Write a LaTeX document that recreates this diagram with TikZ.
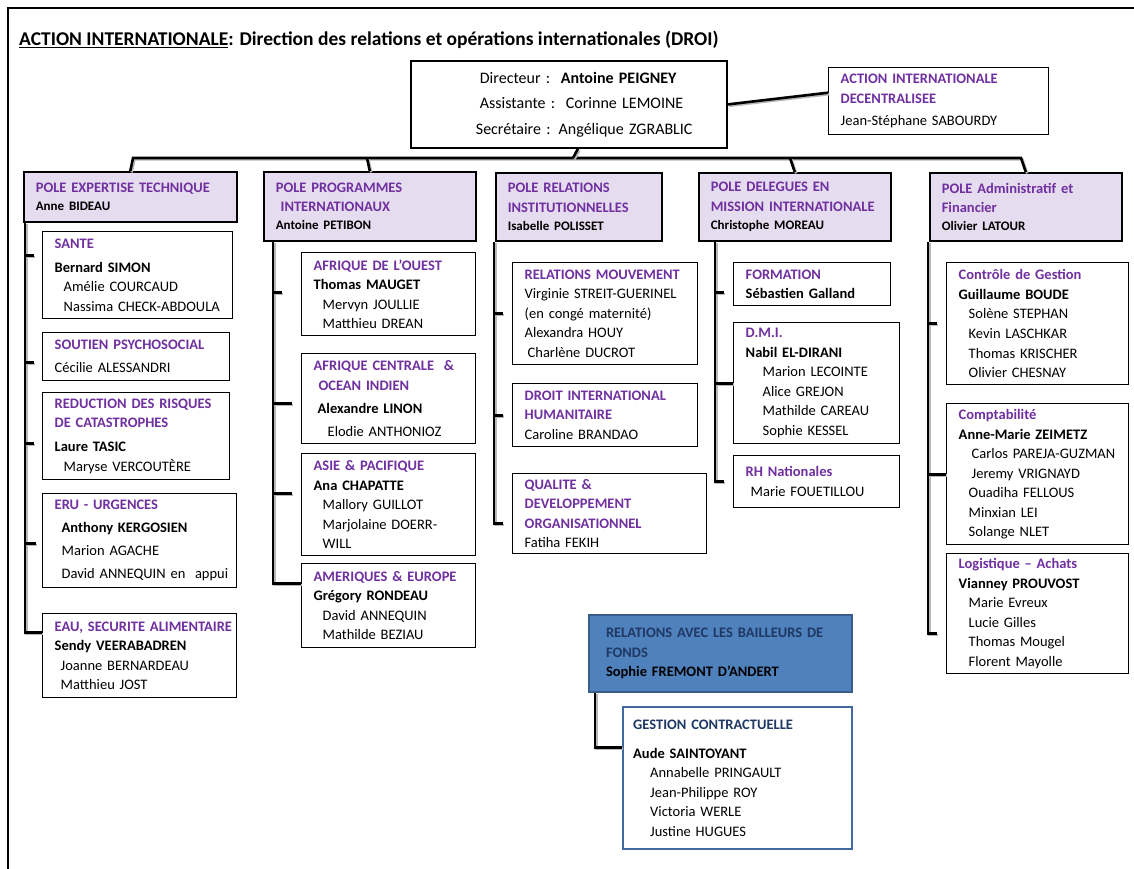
\documentclass[tikz,border=0pt]{standalone}
\usepackage{fontspec}
\setmainfont{Carlito}
\usetikzlibrary{positioning}

\definecolor{droipurple}{HTML}{7030A0}
\definecolor{polefill}{HTML}{E5DCEF}
\definecolor{fundfill}{HTML}{4F81BD}
\definecolor{fundline}{HTML}{385D8A}
\definecolor{fundtext}{HTML}{1F3864}
\definecolor{gestline}{HTML}{41699E}

\newcommand\bodyfont{\fontsize{14.5}{19.5}\selectfont}
\newcommand\chieffont{\fontsize{16}{19.5}\selectfont}
\newcommand\unithead[1]{{\bfseries\color{droipurple}#1}}
\newcommand\fundhead[1]{{\bfseries\color{fundtext}#1}}
\newcommand\polename[1]{{\fontsize{13}{18}\selectfont\bfseries #1}}
\def\ind{\hspace*{9pt}}

\tikzset{
    unit/.style 2 args={draw,line width=1.4pt,fill=white,anchor=north west,align=left,
        inner xsep=12pt,inner ysep=0pt,text width=#1,minimum height=#2,font=\bodyfont,
        execute at begin node={\hyphenpenalty=10000\relax\exhyphenpenalty=10000\relax}},
    pole/.style 2 args={unit={#1}{#2},fill=polefill,line width=1.6pt},
    link/.style={line width=2.6pt,preaction={draw=black!28,line width=2.6pt,
        transform canvas={shift={(1.4pt,-1.4pt)}}}}
}

\begin{document}
\begin{tikzpicture}[x=1pt,y=-1pt]
  \useasboundingbox (0,0) rectangle (1134,869);
  \draw[line width=1.2pt] (8,869) -- (8,8) -- (1134,8);

  % Title
  \node[anchor=west,inner sep=0pt,font=\fontsize{19.5}{23}\selectfont\bfseries] (title) at (19,40)
    {\underline{ACTION INTERNATIONALE}: Direction des relations et opérations internationales (DROI)};

  % Direction
  \node[unit={292pt}{87pt},line width=1.8pt,font=\chieffont] (dir) at (410,60)
    {\hspace*{57pt}Directeur :\ \ \textbf{Antoine~PEIGNEY}\\[6pt]
     \hspace*{57pt}Assistante :\ \ Corinne~LEMOINE\\[6pt]
     \hspace*{53pt}Secrétaire : Angélique~ZGRABLIC};
  \node[unit={196pt}{67pt}] (aid) at (828,67)
    {\unithead{ACTION INTERNATIONALE}\\ \unithead{DECENTRALISEE}\\[3pt] Jean-Stéphane SABOURDY};

  % Poles
  \node[pole={189pt}{50pt}] (pet) at (23,171)
    {\unithead{POLE EXPERTISE TECHNIQUE}\\[-1.5pt] \polename{Anne BIDEAU}};
  \node[pole={188pt}{69pt}] (ppi) at (263,171)
    {\unithead{POLE PROGRAMMES}\\ \unithead{\ INTERNATIONAUX}\\[-1.5pt] \polename{Antoine PETIBON}};
  \node[pole={142pt}{68pt}] (pri) at (495,172)
    {\unithead{POLE RELATIONS}\\ \unithead{INSTITUTIONNELLES}\\[-1.5pt] \polename{Isabelle POLISSET}};
  \node[pole={168pt}{68pt}] (pdm) at (698,172)
    {\unithead{POLE DELEGUES EN}\\ \unithead{MISSION~INTERNATIONALE}\\[-1.5pt] \polename{Christophe MOREAU}};
  \node[pole={168pt}{68pt}] (paf) at (929,172)
    {\unithead{POLE Administratif et}\\ \unithead{Financier}\\[-1.5pt] \polename{Olivier LATOUR}};

  % Pole expertise technique
  \node[unit={166pt}{87pt}] (sante) at (42,231)
    {\unithead{SANTE}\\[4.5pt] \textbf{Bernard SIMON}\\ \ind Amélie COURCAUD\\ \ind Nassima~CHECK-ABDOULA};
  \node[unit={163pt}{48pt}] (soutien) at (42,332)
    {\unithead{SOUTIEN PSYCHOSOCIAL}\\[3.5pt] Cécilie ALESSANDRI};
  \node[unit={163pt}{87pt}] (rrc) at (42,392)
    {\unithead{REDUCTION DES RISQUES}\\ \unithead{DE CATASTROPHES}\\[4.5pt] \textbf{Laure TASIC}\\ \ind Maryse VERCOUTÈRE};
  \node[unit={170pt}{94pt}] (eru) at (42,493)
    {\unithead{ERU - URGENCES}\\[3.5pt] \hspace*{7pt}\textbf{Anthony KERGOSIEN}\\[3.5pt]
     \hspace*{7pt}Marion AGACHE\\[3.5pt] \hspace*{7pt}David~ANNEQUIN~en~\ appui};
  \node[unit={170pt}{84pt}] (eau) at (42,613)
    {\unithead{EAU,~SECURITE~ALIMENTAIRE}\\ \textbf{Sendy VEERABADREN}\\ \hspace*{6pt}Joanne BERNARDEAU\\ \hspace*{6pt}Matthieu JOST};

  % Pole programmes internationaux
  \node[unit={150pt}{83pt}] (aouest) at (301,252)
    {\unithead{AFRIQUE DE L’OUEST}\\ \textbf{Thomas MAUGET}\\ \ind Mervyn JOULLIE\\ \ind Matthieu DREAN};
  \node[unit={150pt}{90pt}] (acentre) at (301,353)
    {\unithead{AFRIQUE CENTRALE\ \ \&}\\ \unithead{\ OCEAN INDIEN}\\[3.5pt] \hspace*{4pt}\textbf{Alexandre LINON}\\[3.5pt] \hspace*{14pt}Elodie ANTHONIOZ};
  \node[unit={150pt}{102pt}] (asie) at (301,453)
    {\unithead{ASIE \& PACIFIQUE}\\ \textbf{Ana CHAPATTE}\\ \ind Mallory GUILLOT\\ \ind Marjolaine DOERR-\\ \ind WILL};
  \node[unit={150pt}{84pt}] (amerique) at (301,563)
    {\unithead{AMERIQUES \& EUROPE}\\ \textbf{Grégory RONDEAU}\\ \ind David ANNEQUIN\\ \ind Mathilde BEZIAU};

  % Pole relations institutionnelles
  \node[unit={161pt}{102pt}] (relmvt) at (512,262)
    {\unithead{RELATIONS MOUVEMENT}\\ Virginie~STREIT-GUERINEL\\ (en congé maternité)\\ Alexandra HOUY\\ \hspace*{3pt}Charlène DUCROT};
  \node[unit={161pt}{63pt}] (dih) at (512,383)
    {\unithead{DROIT INTERNATIONAL}\\ \unithead{HUMANITAIRE}\\ Caroline BRANDAO};
  \node[unit={170pt}{80pt}] (qualite) at (512,473)
    {\unithead{QUALITE \&}\\ \unithead{DEVELOPPEMENT}\\ \unithead{ORGANISATIONNEL}\\ Fatiha FEKIH};

  % Pole delegues en mission internationale
  \node[unit={133pt}{43pt}] (formation) at (733,262)
    {\unithead{FORMATION}\\ \textbf{Sébastien Galland}};
  \node[unit={142pt}{121pt}] (dmi) at (733,322)
    {\unithead{D.M.I.}\\ \textbf{Nabil EL-DIRANI}\\ \hspace*{17pt}Marion LECOINTE\\ \hspace*{17pt}Alice GREJON\\
     \hspace*{17pt}Mathilde CAREAU\\ \hspace*{17pt}Sophie KESSEL};
  \node[unit={142pt}{52pt}] (rhn) at (733,455)
    {\unithead{RH Nationales}\\ \hspace*{5pt}Marie FOUETILLOU};

  % Pole administratif et financier
  \node[unit={158pt}{122pt}] (cdg) at (946,262)
    {\unithead{Contrôle de Gestion}\\ \textbf{Guillaume BOUDE}\\ \hspace*{10pt}Solène STEPHAN\\ \hspace*{10pt}Kevin LASCHKAR\\
     \hspace*{10pt}Thomas KRISCHER\\ \hspace*{10pt}Olivier CHESNAY};
  \node[unit={158pt}{141pt}] (compta) at (946,403)
    {\unithead{Comptabilité}\\ \textbf{Anne-Marie ZEIMETZ}\\ \hspace*{13pt}Carlos~PAREJA-GUZMAN\\ \hspace*{13pt}Jeremy VRIGNAYD\\
     \hspace*{10pt}Ouadiha FELLOUS\\ \hspace*{10pt}Minxian LEI\\ \hspace*{10pt}Solange NLET};
  \node[unit={158pt}{120pt}] (logist) at (946,553)
    {\unithead{Logistique – Achats}\\ \textbf{Vianney PROUVOST}\\ \hspace*{10pt}Marie Evreux\\ \hspace*{10pt}Lucie Gilles\\
     \hspace*{10pt}Thomas Mougel\\ \hspace*{10pt}Florent Mayolle};

  % Bailleurs de fonds
  \node[unit={229pt}{77pt},inner xsep=17pt,fill=fundfill,draw=fundline,line width=2pt] (bailleurs) at (588,614)
    {\fundhead{RELATIONS AVEC LES BAILLEURS DE}\\ \fundhead{FONDS}\\ \textbf{Sophie FREMONT D’ANDERT}};
  \node[unit={209pt}{142pt},inner xsep=10pt,draw=gestline,line width=2.4pt] (gestion) at (622,706)
    {\fundhead{GESTION CONTRACTUELLE}\\[9.5pt] \textbf{Aude SAINTOYANT}\\ \hspace*{17pt}Annabelle PRINGAULT\\
     \hspace*{17pt}Jean-Philippe ROY\\ \hspace*{17pt}Victoria WERLE\\ \hspace*{17pt}Justine HUGUES};

  % Bus between direction and poles
  \coordinate (bl) at (133,158);
  \coordinate (br) at (1021,158);
  \coordinate (bd) at (573,158);
  \coordinate (b2) at (367,158);
  \coordinate (b4) at (790,158);
  \draw[link] (pet.north) -- (bl) -- (br) -- (paf.north);
  \draw[link] ([xshift=9pt]dir.south) -- (bd);
  \draw[link] (b2) -- (ppi.north);
  \draw[link] (b4) -- (pdm.north);
  \draw[link] (dir.east) -- ([yshift=8.5pt]aid.west);

  % Column spines
  \coordinate (s1) at ([xshift=2pt]pet.south west);
  \coordinate (s2) at ([xshift=10pt]ppi.south west);
  \coordinate (s3) at ([xshift=-1pt]pri.south west);
  \coordinate (s4) at ([xshift=17pt]pdm.south west);
  \coordinate (s5) at ([xshift=-1pt]paf.south west);

  \draw[link] (s1) |- ([yshift=23pt]eau.west);
  \draw[link] (s1 |- sante.west) ++(0,-19.5) -- ++(9,0);
  \draw[link] (s1 |- soutien.west) ++(0,6) -- ++(9,0);
  \draw[link] (s1 |- rrc.west) ++(0,7.5) -- ++(9,0);
  \draw[link] (s1 |- eru.west) ++(0,3) -- ++(11,0);

  \draw[link] (s2) |- ([yshift=22pt]amerique.west);
  \draw[link] (s2 |- aouest.west) ++(0,-1.5) -- ++(9,0);
  \draw[link] (s2 |- acentre.west) ++(0,5) -- ++(19,0);
  \draw[link] (s2 |- asie.west) ++(0,-11) -- ++(19,0);

  \draw[link] (s3) |- ([yshift=-10pt,xshift=-9pt]qualite.west);
  \draw[link] (s3 |- relmvt.west) -- ++(9,0);
  \draw[link] (s3 |- dih.west) -- ++(9,0);

  \draw[link] (s4) |- ([xshift=-9pt]rhn.west);
  \draw[link] (s4 |- formation.west) ++(0,8.5) -- ++(9,0);
  \draw[link] (s4 |- dmi.west) -- (dmi.west);

  \draw[link] (s5) |- ([yshift=-20pt,xshift=-9pt]logist.west);
  \draw[link] (s5 |- cdg.west) -- ++(9,0);
  \draw[link] (s5 |- compta.west) -- (compta.west);

  % Link to contract management
  \draw[link] ([xshift=7pt]bailleurs.south west) |- ([yshift=31pt]gestion.west);
\end{tikzpicture}
\end{document}
